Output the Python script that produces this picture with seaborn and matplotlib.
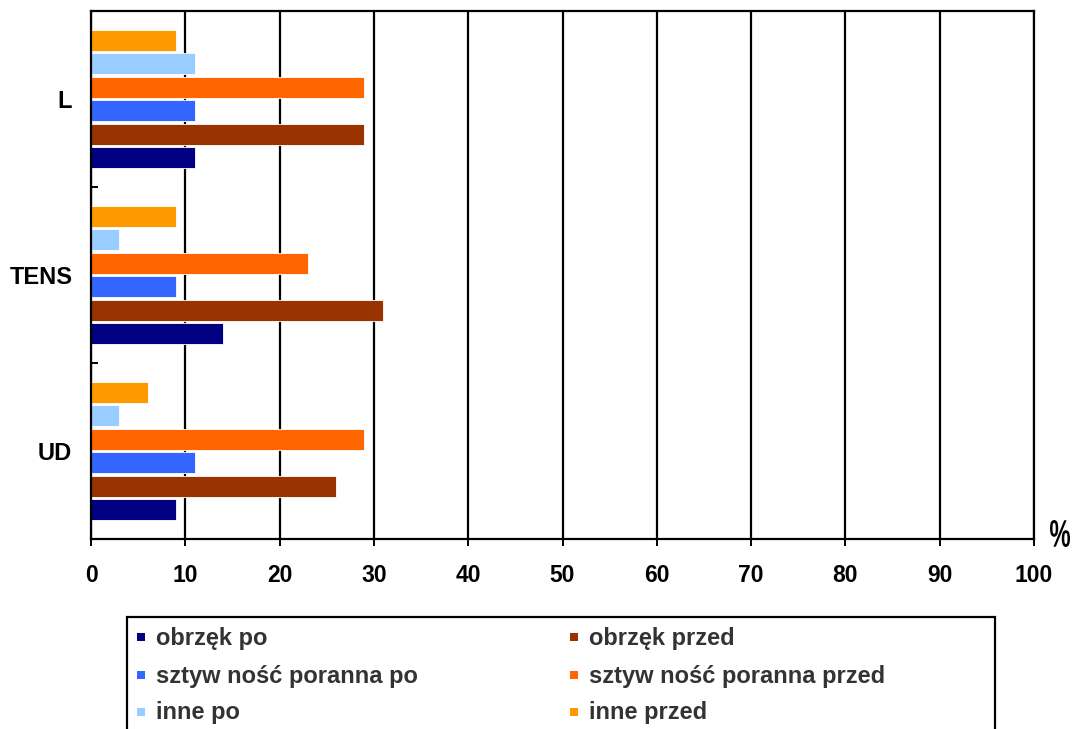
import matplotlib
matplotlib.use("Agg")
import matplotlib.pyplot as plt
from matplotlib.patches import Rectangle, PathPatch
from matplotlib.ticker import FixedLocator
from matplotlib.textpath import TextPath
from matplotlib.font_manager import FontProperties
from matplotlib.transforms import Affine2D
import pandas as pd
import seaborn as sns

# Groups (top to bottom) and percentages per symptom series
groups = ["L", "TENS", "UD"]
obrzek_po = [11, 14, 9]
obrzek_przed = [29, 31, 26]
sztywnosc_po = [11, 9, 11]
sztywnosc_przed = [29, 23, 29]
inne_po = [11, 3, 3]
inne_przed = [9, 9, 6]

series_names = [
    "obrzęk po", "obrzęk przed",
    "sztyw ność poranna po", "sztyw ność poranna przed",
    "inne po", "inne przed",
]
series_values = [obrzek_po, obrzek_przed, sztywnosc_po, sztywnosc_przed, inne_po, inne_przed]
series_colors = ["#000080", "#993300", "#3366FF", "#FF6600", "#99CCFF", "#FF9900"]
x_ticks = list(range(0, 101, 10))

rows = []
for name, vals in zip(series_names, series_values):
    for g, v in zip(groups, vals):
        rows.append({"grupa": g, "seria": name, "wartosc": v})
df = pd.DataFrame(rows)

sns.set_theme(style="white")
plt.rcParams["font.family"] = ["Liberation Sans", "DejaVu Sans"]
plt.rcParams["font.weight"] = "bold"

fig = plt.figure(figsize=(10.75, 7.29), dpi=100)
W, H = 1075, 729
left, right, top, bottom = 91, 1034, 11, 539
ax = fig.add_axes([left / W, 1 - bottom / H, (right - left) / W, (bottom - top) / H])

# within each group the last series sits at the top
hue_order = series_names[::-1]
palette = dict(zip(series_names, series_colors))
sns.barplot(
    data=df, y="grupa", x="wartosc", hue="seria",
    order=groups, hue_order=hue_order, palette=palette,
    orient="h", width=0.8, gap=0.12, saturation=1,
    edgecolor="white", linewidth=0.6, legend=False, ax=ax,
)

ax.set_xlim(0, 100)
ax.set_ylim(2.5, -0.5)
ax.set_xlabel("")
ax.set_ylabel("")

# frame and vertical grid
for side in ["left", "bottom", "top", "right"]:
    ax.spines[side].set_visible(True)
    ax.spines[side].set_color("black")
    ax.spines[side].set_linewidth(1.6)
ax.set_xticks(x_ticks)
ax.xaxis.grid(True, color="black", linewidth=1.6)
ax.yaxis.grid(False)
ax.set_axisbelow(True)

ax.tick_params(axis="x", which="major", direction="out", length=5, width=1.4,
               color="black", labelsize=16.5, labelcolor="black", pad=13, bottom=True)
ax.tick_params(axis="y", which="major", length=0, labelsize=17, labelcolor="black", pad=13.5)
ax.yaxis.set_minor_locator(FixedLocator([0.5, 1.5]))
ax.tick_params(axis="y", which="minor", direction="in", length=5, width=1.4,
               color="black", left=True)
for lbl in ax.get_xticklabels() + ax.get_yticklabels():
    lbl.set_fontweight("bold")

# unit marker next to the axis end, drawn as a condensed glyph
pct = TextPath((0, 0), "%", size=40, prop=FontProperties(family="Liberation Sans", weight="bold"))
bb = pct.get_extents()
px0, px1, py_top, py_bot = 1050, 1070, 520, 547
pct_tr = (Affine2D().translate(-bb.x0, -bb.y0)
          .scale((px1 - px0) / bb.width, (py_bot - py_top) / bb.height)
          .translate(px0, H - py_bot)
          .scale(1 / W, 1 / H) + fig.transFigure)
fig.patches.append(PathPatch(pct, transform=pct_tr, facecolor="black", edgecolor="none"))

# legend box
lx0, ly0, lx1 = 127, 617, 995
fig.patches.append(Rectangle((lx0 / W, 1 - 740 / H), (lx1 - lx0) / W, (740 - ly0) / H,
                             transform=fig.transFigure, facecolor="white",
                             edgecolor="black", linewidth=1.6))
col_x = [141, 574]
row_y = [637, 675, 712]
order = [(0, 0), (1, 0), (0, 1), (1, 1), (0, 2), (1, 2)]
for (c, r), name, color in zip(order, series_names, series_colors):
    mx, my = col_x[c], row_y[r]
    fig.patches.append(Rectangle(((mx - 4) / W, 1 - (my + 4) / H), 8 / W, 8 / H,
                                 transform=fig.transFigure, facecolor=color,
                                 edgecolor="none"))
    fig.text((mx + 15) / W, 1 - (my + 1) / H, name, ha="left", va="center",
             fontsize=17, fontweight="bold", color="#333333")

fig.savefig("out.png", dpi=100)
